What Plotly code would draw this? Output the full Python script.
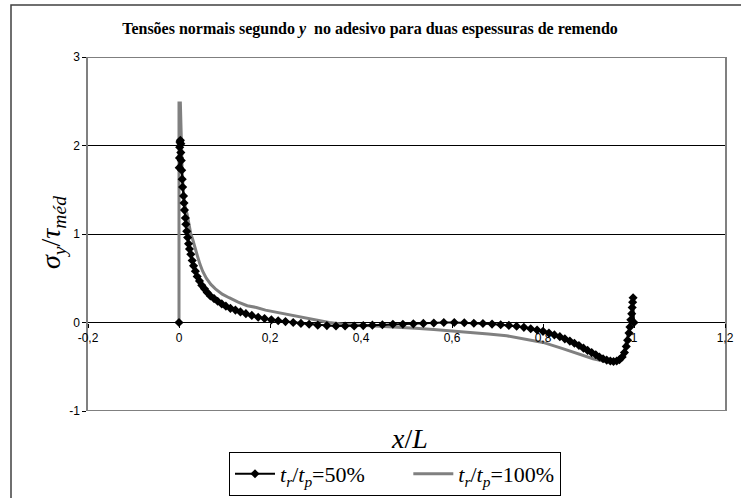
import plotly.graph_objects as go

# Series tr/tp = 50% (black, diamonds)
x50 = [0.0, None,
       0.0005, 0.001, 0.0015, 0.002, 0.003, 0.004, 0.004, 0.005, 0.006, 0.007,
       0.008, 0.010, 0.011, 0.012, 0.014, 0.015, 0.017, 0.019, 0.021, 0.023,
       0.026, 0.029, 0.032, 0.036, 0.040, 0.045, 0.050, 0.056, 0.062, 0.069,
       0.077, 0.085, 0.094, 0.103, 0.113, 0.124, 0.135, 0.147, 0.160, 0.174,
       0.188, 0.203, 0.218, 0.234, 0.251, 0.268, 0.286, 0.305, 0.325, 0.345,
       0.365, 0.385, 0.405, 0.425, 0.447, 0.470, 0.492, 0.515, 0.537, 0.560,
       0.582, 0.605, 0.627, 0.648, 0.668, 0.688, 0.707, 0.725, 0.742, 0.758,
       0.773, 0.787, 0.800, 0.813, 0.825, 0.837, 0.848, 0.859, 0.869, 0.879,
       0.889, 0.898, 0.907, 0.916, 0.924, 0.932, 0.940, 0.948, 0.955, 0.962,
       0.968, 0.974, 0.979, 0.983, 0.986, 0.989, 0.991, 0.993, 0.995, 0.996,
       0.997, 0.998, 1.0]
y50 = [0.0, None,
       1.75, 1.86, 1.98, 2.04, 2.06, 2.02, 1.92, 1.83, 1.72, 1.62,
       1.53, 1.43, 1.35, 1.27, 1.18, 1.11, 1.03, 0.96, 0.89, 0.83,
       0.77, 0.70, 0.64, 0.58, 0.52, 0.47, 0.42, 0.38, 0.34, 0.30,
       0.27, 0.24, 0.21, 0.185, 0.16, 0.14, 0.12, 0.10, 0.08, 0.06,
       0.045, 0.03, 0.02, 0.01, 0.0, -0.01, -0.02, -0.03, -0.035, -0.04,
       -0.04, -0.04, -0.035, -0.03, -0.025, -0.02, -0.02, -0.015, -0.01, -0.005,
       0.0, 0.0, -0.003, -0.008, -0.012, -0.018, -0.025, -0.033, -0.042, -0.055,
       -0.07, -0.085, -0.10, -0.12, -0.14, -0.16, -0.185, -0.21, -0.235, -0.26,
       -0.29, -0.315, -0.34, -0.365, -0.39, -0.41, -0.425, -0.435, -0.44, -0.435,
       -0.42, -0.39, -0.34, -0.27, -0.20, -0.12, -0.05, 0.03, 0.10, 0.17,
       0.23, 0.28, 0.0]

# Series tr/tp = 100% (grey line)
x100 = [0.0, 0.0, 0.003, 0.005, 0.007, 0.010, 0.014, 0.018, 0.022, 0.026,
        0.030, 0.035, 0.040, 0.046, 0.052, 0.060, 0.070, 0.080, 0.095, 0.11,
        0.13, 0.15, 0.17, 0.19, 0.21, 0.24, 0.27, 0.30, 0.33, 0.36,
        0.40, 0.44, 0.48, 0.52, 0.56, 0.60, 0.64, 0.68, 0.72, 0.76,
        0.80, 0.84, 0.88, 0.91, 0.94, 0.96, 0.97, 0.98, 0.99, 0.995, 1.0]
y100 = [0.0, 2.48, 2.48, 2.1, 1.7, 1.45, 1.30, 1.22, 1.10, 1.0,
        0.94, 0.84, 0.76, 0.66, 0.58, 0.50, 0.43, 0.38, 0.32, 0.28,
        0.23, 0.19, 0.17, 0.14, 0.12, 0.09, 0.06, 0.03, 0.0, -0.02,
        -0.03, -0.04, -0.05, -0.065, -0.08, -0.095, -0.11, -0.13, -0.15, -0.185,
        -0.225, -0.29, -0.355, -0.41, -0.445, -0.45, -0.43, -0.30, -0.05, 0.1, 0.0]

x_tickvals = [-0.2, 0, 0.2, 0.4, 0.6, 0.8, 1.0, 1.2]
x_ticktext = ["-0,2", "0", "0,2", "0,4", "0,6", "0,8", "1", "1,2"]
y_tickvals = [-1, 0, 1, 2, 3]
y_ticktext = ["-1", "0", "1", "2", "3"]

W, H = 741, 498
L, R, T, B = 88, 16, 57, 87
pw, ph = W - L - R, H - T - B

def px(x):
    return (x - L) / pw

def py(y):
    return (H - B - y) / ph

NB = "\u00a0"
fig = go.Figure()
fig.add_trace(go.Scatter(
    x=x100, y=y100, mode="lines", name="<i>t</i><sub><i>r</i></sub>/<i>t</i><sub><i>p</i></sub>=100%",
    line=dict(color="#808080", width=3), legendrank=2))
fig.add_trace(go.Scatter(
    x=x50, y=y50, mode="lines+markers",
    name="<i>t</i><sub><i>r</i></sub>/<i>t</i><sub><i>p</i></sub>=50%" + NB * 7,
    line=dict(color="black", width=2), marker=dict(symbol="diamond", size=7, color="black"),
    connectgaps=False, legendrank=1))

fig.update_layout(
    width=W, height=H,
    margin=dict(l=L, r=R, t=T, b=B, autoexpand=False),
    paper_bgcolor="white", plot_bgcolor="white",
    title=dict(text="<b>Tensões normais segundo <i>y</i>  no adesivo para duas espessuras de remendo</b>",
               xref="container", yref="container",
               x=370 / W, xanchor="center", y=1 - 28 / H, yanchor="middle",
               font=dict(family="Liberation Serif", size=16, color="black")),
    font=dict(family="Liberation Sans", size=12, color="black"),
    showlegend=True,
    legend=dict(orientation="h", x=px(229), xanchor="left", y=py(452), yanchor="top",
                bgcolor="white", bordercolor="black", borderwidth=1,
                font=dict(family="Liberation Serif", size=22, color="black"),
                itemwidth=40),
    xaxis=dict(range=[-0.2, 1.2], tickvals=x_tickvals, ticktext=x_ticktext,
               anchor="free", position=0.25, showline=False,
               ticks="outside", ticklen=4, tickcolor="black", showgrid=False, zeroline=False,
               tickfont=dict(family="Liberation Sans", size=12, color="black")),
    yaxis=dict(range=[-1, 3], tickvals=y_tickvals, ticktext=y_ticktext,
               showline=True, linecolor="#808080", linewidth=1.5, mirror=True,
               ticks="outside", ticklen=4, tickcolor="black",
               showgrid=True, gridcolor="black", gridwidth=1, zeroline=False,
               tickfont=dict(family="Liberation Sans", size=12, color="black")),
)

# top and bottom frame grid lines (at the extreme y ticks)
for yv in (y_tickvals[0], y_tickvals[-1]):
    fig.add_shape(type="line", xref="paper", yref="y", x0=0, x1=1, y0=yv, y1=yv,
                  line=dict(color="black", width=1), layer="below")

# y-axis title
fig.add_annotation(text="<i>σ<sub>y</sub></i>/<i>τ<sub>méd</sub></i>", textangle=-90,
                   xref="paper", yref="paper", x=px(52), y=py(233), xanchor="center", yanchor="middle",
                   showarrow=False, font=dict(family="Liberation Serif", size=28, color="black"))
# x-axis title
fig.add_annotation(text="<i>x</i>/<i>L</i>",
                   xref="paper", yref="paper", x=px(409), y=py(438), xanchor="center", yanchor="middle",
                   showarrow=False, font=dict(family="Liberation Serif", size=28, color="black"))
# chart area border
fig.add_shape(type="rect", xref="paper", yref="paper", x0=px(11), y0=py(5), x1=px(760), y1=py(520),
              line=dict(color="#404040", width=1.5), fillcolor="rgba(0,0,0,0)", layer="above")

fig.write_html("out.html", config={"displayModeBar": False},
               post_script="document.body.style.margin='0';document.body.style.overflow='hidden';")
